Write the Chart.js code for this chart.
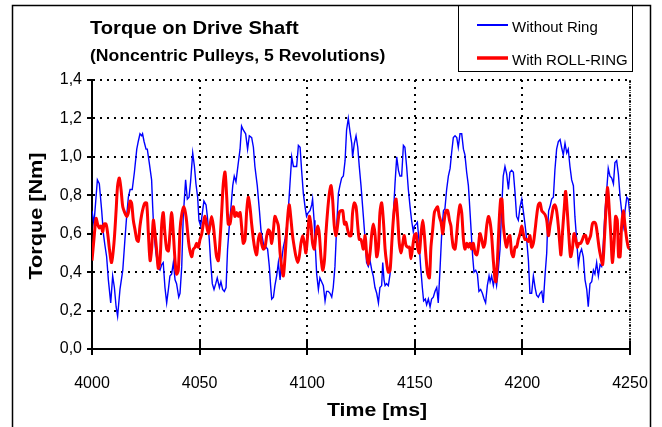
<!DOCTYPE html>
<html>
<head>
<meta charset="utf-8">
<script src="https://cdn.jsdelivr.net/npm/chart.js"></script>
<style>
  html, body { margin: 0; background: #fff; }
  #chart { display: block; }
</style>
</head>
<body>
<canvas id="chart" width="662" height="427"></canvas>
<script>
// --- data (time in ms, torque in Nm) ---
const blueTime = [
  4000.0, 4000.9, 4002.5, 4003.4, 4004.5, 4005.3, 4006.0, 4006.8, 4007.6, 4008.7, 4009.6, 4010.4, 4011.2, 4011.9, 4013.0, 4014.3,
  4015.3, 4016.1, 4016.9, 4017.7, 4018.7, 4019.7, 4020.8, 4021.5, 4022.3, 4023.1, 4023.5, 4024.2, 4025.1, 4025.7, 4026.6, 4027.7,
  4028.2, 4028.8, 4029.7, 4030.8, 4031.6, 4032.4, 4033.1, 4033.9, 4034.7, 4035.5, 4036.2, 4037.0, 4037.8, 4038.6, 4039.3, 4040.3,
  4040.9, 4041.7, 4042.4, 4043.5, 4044.3, 4045.1, 4045.8, 4046.8, 4047.6, 4048.3, 4049.1, 4049.7, 4050.5, 4051.3, 4052.0, 4053.0,
  4053.6, 4054.5, 4055.1, 4055.9, 4056.7, 4057.5, 4058.2, 4059.2, 4059.9, 4060.7, 4061.5, 4062.3, 4063.0, 4063.8, 4064.6, 4065.4,
  4066.1, 4066.9, 4068.0, 4068.8, 4069.5, 4070.3, 4071.4, 4072.3, 4073.1, 4074.2, 4075.0, 4075.7, 4076.8, 4077.8, 4078.5, 4079.3,
  4080.1, 4080.9, 4081.6, 4082.4, 4083.0,
  4083.5, 4084.3, 4085.0, 4085.8, 4086.6, 4087.4, 4088.1, 4088.9, 4089.7, 4090.5, 4091.2, 4092.0, 4092.8, 4093.6, 4094.3, 4095.1,
  4095.9, 4096.7, 4097.4, 4098.2, 4099.0, 4099.7, 4100.5, 4101.3, 4102.1, 4102.5, 4103.2, 4103.6, 4104.4, 4105.2, 4105.9, 4106.7,
  4107.5, 4108.3, 4109.0, 4109.8, 4110.6, 4111.4, 4112.1, 4112.9, 4113.7, 4114.5, 4115.2, 4116.0, 4116.8, 4117.6, 4118.3, 4119.1,
  4119.9, 4120.7, 4121.1, 4121.9, 4122.7, 4123.5, 4124.2, 4125.0,
  4126.1, 4126.9, 4127.6, 4128.4, 4129.2, 4130.0, 4130.7, 4131.5, 4132.3, 4133.1, 4133.8, 4134.6, 4135.1, 4135.7, 4136.2, 4136.9,
  4137.7, 4138.5, 4139.3, 4140.0, 4140.8, 4141.6, 4142.4, 4143.1, 4143.9, 4144.7, 4145.4, 4146.2, 4147.0, 4147.8, 4148.5, 4149.3,
  4149.8, 4150.6, 4151.2, 4151.9, 4152.7, 4153.5, 4154.1, 4154.9, 4155.5, 4156.3, 4157.1, 4157.8, 4158.6, 4159.4, 4160.2, 4160.9,
  4161.7, 4162.5, 4163.3, 4164.0, 4164.8, 4165.6, 4166.4,
  4167.1, 4167.9, 4168.7, 4169.5, 4170.2, 4171.0, 4171.8, 4172.6, 4173.3, 4174.1, 4174.9, 4175.3, 4176.0, 4176.4, 4176.9, 4177.5,
  4178.3, 4179.1, 4179.8, 4180.6, 4181.4, 4182.2, 4182.9, 4183.7, 4184.5, 4185.0, 4185.7, 4186.5, 4187.3, 4188.0, 4188.8, 4189.6,
  4190.4, 4191.1, 4191.9, 4192.7, 4193.5, 4194.2, 4195.0, 4195.8, 4196.6, 4197.3, 4198.1, 4198.9, 4199.7, 4200.4, 4201.2, 4202.0,
  4202.8, 4203.5, 4204.3, 4205.1, 4205.9, 4206.6, 4207.4, 4208.2,
  4209.0, 4209.7, 4210.5, 4211.3, 4211.6, 4212.2, 4212.8, 4213.6, 4214.4, 4215.1, 4215.9, 4216.7, 4217.5, 4218.2, 4219.0, 4219.8,
  4220.6, 4221.3, 4222.1, 4222.9, 4223.7, 4224.4, 4225.2, 4226.0, 4226.8, 4227.5, 4228.3, 4229.1, 4229.9, 4230.6, 4231.4, 4232.2,
  4233.0, 4233.7, 4234.5, 4235.3, 4236.1, 4236.8, 4237.6, 4238.4, 4239.2, 4239.9, 4240.7, 4241.5, 4242.3, 4243.0, 4243.8, 4244.6,
  4245.4, 4246.1, 4246.9, 4247.7, 4248.5, 4249.2, 4250.0
];
const blueTorque = [
  0.72, 0.65, 0.88, 0.86, 0.72, 0.60, 0.54, 0.48, 0.36, 0.24, 0.38, 0.32, 0.22, 0.17, 0.31, 0.41,
  0.57, 0.69, 0.79, 0.83, 0.83, 0.92, 1.04, 1.08, 1.12, 1.11, 1.12, 1.08, 1.04, 1.04, 0.97, 0.88,
  0.74, 0.60, 0.50, 0.42, 0.41, 0.44, 0.45, 0.32, 0.24, 0.31, 0.38, 0.39, 0.45, 0.36, 0.34, 0.27,
  0.29, 0.43, 0.69, 0.88, 0.78, 0.79, 0.87, 1.02, 0.95, 0.86, 0.79, 0.67, 0.64, 0.71, 0.77, 0.75,
  0.69, 0.57, 0.46, 0.34, 0.31, 0.34, 0.37, 0.32, 0.35, 0.31, 0.30, 0.32, 0.52, 0.64, 0.74, 0.85,
  0.90, 0.87, 0.97, 1.04, 1.16, 1.14, 1.12, 1.04, 1.11, 1.10, 1.05, 0.95, 0.85, 0.72, 0.62, 0.57,
  0.52, 0.53, 0.52, 0.43, 0.33,
  0.26, 0.27, 0.33, 0.38, 0.45, 0.36, 0.46, 0.53, 0.57, 0.64, 0.72, 0.86, 1.00, 0.95, 0.95, 0.95,
  1.06, 1.05, 0.93, 0.81, 0.74, 0.69, 0.71, 0.72, 0.75, 0.78, 0.67, 0.57, 0.39, 0.31, 0.37, 0.35,
  0.33, 0.25, 0.30, 0.30, 0.29, 0.27, 0.32, 0.43, 0.64, 0.81, 0.85, 0.89, 0.90, 0.98, 1.14, 1.20,
  1.13, 1.07, 1.00, 1.07, 1.11, 1.05, 0.95, 0.85,
  0.69, 0.57, 0.45, 0.43, 0.46, 0.41, 0.38, 0.32, 0.29, 0.24, 0.32, 0.33, 0.45, 0.36, 0.33, 0.34,
  0.33, 0.39, 0.53, 0.69, 0.86, 1.00, 0.93, 0.90, 0.90, 1.06, 1.05, 0.95, 0.83, 0.74, 0.67, 0.61,
  0.64, 0.65, 0.66, 0.57, 0.43, 0.32, 0.25, 0.26, 0.23, 0.26, 0.22, 0.26, 0.27, 0.30, 0.32, 0.24,
  0.41, 0.60, 0.72, 0.73, 0.83, 0.90, 0.94,
  1.02, 1.10, 1.11, 1.10, 1.05, 1.12, 1.12, 1.04, 1.01, 0.92, 0.85, 0.78, 0.65, 0.57, 0.48, 0.40,
  0.41, 0.39, 0.30, 0.31, 0.29, 0.26, 0.24, 0.33, 0.38, 0.35, 0.38, 0.33, 0.38, 0.33, 0.41, 0.52,
  0.74, 0.90, 0.95, 0.91, 0.83, 0.92, 0.93, 0.92, 0.81, 0.69, 0.67, 0.74, 0.78, 0.72, 0.65, 0.57,
  0.46, 0.29, 0.29, 0.38, 0.32, 0.28, 0.27, 0.29,
  0.30, 0.24, 0.38, 0.50, 0.60, 0.72, 0.74, 0.78, 0.79, 0.93, 1.04, 1.08, 1.09, 1.05, 1.01, 1.07,
  1.02, 1.04, 0.95, 0.88, 0.85, 0.69, 0.57, 0.44, 0.50, 0.52, 0.48, 0.36, 0.31, 0.22, 0.34, 0.35,
  0.41, 0.39, 0.45, 0.38, 0.44, 0.43, 0.55, 0.72, 0.83, 0.94, 0.90, 0.89, 0.86, 0.97, 0.98, 0.91,
  0.79, 0.72, 0.64, 0.72, 0.79, 0.78, 0.69
];

const redTime = [
  4000.0, 4000.9, 4001.9, 4002.6, 4003.4, 4004.2, 4005.0, 4005.6, 4006.5, 4007.3, 4008.1, 4009.1, 4010.2, 4011.2, 4011.9, 4012.7,
  4013.5, 4014.3, 4015.2, 4016.1, 4016.9, 4017.7, 4018.4, 4019.2, 4020.0, 4020.8, 4021.5, 4022.3, 4023.1, 4023.9, 4024.6, 4025.4,
  4026.2, 4027.0, 4027.7, 4028.5, 4029.3, 4030.0, 4030.8, 4031.6, 4032.4, 4033.1, 4033.9, 4034.7, 4035.5, 4036.2, 4037.0, 4037.8,
  4038.6, 4039.3, 4040.1, 4040.9,
  4041.7, 4042.7, 4043.7, 4044.5, 4045.2, 4046.3, 4047.1, 4047.9, 4048.6, 4049.4, 4050.2, 4051.0, 4051.7, 4052.5, 4053.3, 4054.1,
  4054.8, 4055.6, 4056.4, 4057.2, 4057.9, 4058.7, 4059.5, 4060.3, 4061.0, 4061.8, 4062.6, 4063.3, 4064.1, 4064.9, 4065.7, 4066.4,
  4067.2, 4068.0, 4068.8, 4069.5, 4070.3, 4071.1, 4071.9, 4072.6, 4073.4, 4074.2, 4075.0, 4075.7, 4076.5, 4077.3, 4078.1, 4078.8,
  4079.6, 4080.4, 4081.2, 4081.9, 4082.7,
  4083.5, 4084.3, 4085.0, 4085.8, 4086.6, 4087.4, 4088.1, 4088.9, 4089.7, 4090.5, 4091.2, 4091.7, 4092.5, 4093.2, 4094.0, 4094.8,
  4095.6, 4096.3, 4097.1, 4097.9, 4098.7, 4099.4, 4100.2, 4101.0, 4101.8, 4102.5, 4103.3, 4104.1, 4104.9, 4105.6, 4106.4, 4107.2,
  4108.0, 4108.7, 4109.5, 4110.3, 4111.1, 4111.8, 4112.6, 4113.4, 4114.2, 4114.9, 4115.7, 4116.5, 4117.3, 4118.0, 4118.8, 4119.6,
  4120.4, 4121.1, 4121.9, 4122.7, 4123.5, 4124.2, 4125.0,
  4126.1, 4126.9, 4127.6, 4128.4, 4129.2, 4130.0, 4130.7, 4131.5, 4132.3, 4133.1, 4133.8, 4134.6, 4135.4, 4136.2, 4136.9, 4137.7,
  4138.5, 4139.3, 4140.0, 4140.8, 4141.3, 4142.0, 4142.8, 4143.6, 4144.4, 4145.1, 4145.9, 4146.7, 4147.5, 4148.2, 4149.0, 4149.8,
  4150.6, 4151.3, 4152.1, 4152.9, 4153.7, 4154.4, 4155.2, 4156.0, 4156.8, 4157.5, 4158.3, 4159.1, 4159.9, 4160.6, 4161.4, 4162.2,
  4163.0, 4163.7, 4164.5, 4165.3, 4166.1, 4166.8,
  4167.1, 4167.9, 4168.7, 4169.5, 4170.2, 4171.0, 4171.8, 4172.6, 4173.3, 4174.1, 4174.9, 4175.7, 4176.4, 4177.2, 4178.0, 4178.8,
  4179.5, 4180.3, 4181.1, 4181.9, 4182.6, 4183.4, 4184.2, 4185.0, 4185.7, 4186.5, 4187.3, 4187.7, 4188.4, 4189.1, 4189.9, 4190.5,
  4191.1, 4191.9, 4192.7, 4193.5, 4194.2, 4195.0, 4195.8, 4196.6, 4197.3, 4198.1, 4198.9, 4199.7, 4200.4, 4201.2, 4202.0, 4202.8,
  4203.5, 4204.3, 4205.1, 4205.9, 4206.6, 4207.4, 4208.2,
  4209.0, 4209.7, 4210.5, 4211.3, 4212.1, 4212.8, 4213.6, 4214.4, 4215.1, 4215.9, 4216.7, 4217.5, 4217.9, 4218.7, 4219.5, 4220.1,
  4220.9, 4221.7, 4222.4, 4223.2, 4224.0, 4224.8, 4225.5, 4226.3, 4227.1, 4227.9, 4228.6, 4229.4, 4230.2, 4231.0, 4231.7, 4232.5,
  4233.3, 4234.1, 4234.8, 4235.6, 4236.4, 4237.3, 4238.1, 4238.9, 4239.6, 4240.4, 4241.2, 4241.8, 4242.6, 4243.3, 4244.1, 4244.7,
  4245.4, 4246.1, 4246.9, 4247.7, 4248.5, 4249.2, 4250.0
];
const redTorque = [
  0.46, 0.57, 0.68, 0.65, 0.63, 0.64, 0.61, 0.65, 0.65, 0.60, 0.52, 0.45, 0.55, 0.72, 0.85, 0.89,
  0.83, 0.74, 0.71, 0.69, 0.71, 0.77, 0.76, 0.67, 0.62, 0.57, 0.56, 0.64, 0.70, 0.74, 0.76, 0.76,
  0.60, 0.46, 0.52, 0.67, 0.60, 0.52, 0.42, 0.46, 0.65, 0.71, 0.60, 0.52, 0.51, 0.60, 0.71, 0.60,
  0.46, 0.39, 0.41, 0.62,
  0.70, 0.74, 0.69, 0.60, 0.53, 0.48, 0.52, 0.53, 0.55, 0.53, 0.57, 0.60, 0.65, 0.69, 0.64, 0.60,
  0.64, 0.69, 0.64, 0.55, 0.48, 0.46, 0.57, 0.72, 0.86, 0.92, 0.79, 0.65, 0.65, 0.71, 0.74, 0.69,
  0.71, 0.69, 0.71, 0.64, 0.55, 0.57, 0.72, 0.79, 0.74, 0.65, 0.57, 0.52, 0.49, 0.57, 0.60, 0.55,
  0.52, 0.53, 0.59, 0.62, 0.61,
  0.55, 0.62, 0.69, 0.67, 0.64, 0.50, 0.43, 0.38, 0.48, 0.62, 0.72, 0.75, 0.67, 0.59, 0.53, 0.48,
  0.45, 0.48, 0.55, 0.59, 0.55, 0.50, 0.59, 0.69, 0.64, 0.55, 0.52, 0.60, 0.64, 0.60, 0.48, 0.41,
  0.46, 0.60, 0.72, 0.81, 0.85, 0.78, 0.64, 0.59, 0.65, 0.71, 0.72, 0.72, 0.65, 0.66, 0.62, 0.59,
  0.59, 0.71, 0.76, 0.74, 0.64, 0.57, 0.57,
  0.52, 0.59, 0.50, 0.44, 0.50, 0.60, 0.65, 0.60, 0.48, 0.53, 0.71, 0.76, 0.67, 0.52, 0.45, 0.40,
  0.41, 0.55, 0.67, 0.76, 0.78, 0.69, 0.55, 0.50, 0.55, 0.59, 0.54, 0.53, 0.53, 0.47, 0.53, 0.59,
  0.60, 0.53, 0.50, 0.60, 0.67, 0.60, 0.48, 0.39, 0.37, 0.53, 0.62, 0.71, 0.73, 0.74, 0.69, 0.66,
  0.60, 0.67, 0.72, 0.72, 0.67, 0.64,
  0.60, 0.53, 0.52, 0.60, 0.69, 0.75, 0.71, 0.57, 0.52, 0.55, 0.53, 0.55, 0.52, 0.55, 0.50, 0.49,
  0.53, 0.60, 0.57, 0.53, 0.55, 0.64, 0.69, 0.66, 0.59, 0.46, 0.36, 0.35, 0.46, 0.64, 0.78, 0.78,
  0.65, 0.57, 0.53, 0.58, 0.59, 0.50, 0.48, 0.53, 0.53, 0.57, 0.60, 0.64, 0.60, 0.57, 0.57, 0.56,
  0.59, 0.53, 0.55, 0.62, 0.69, 0.75, 0.76,
  0.72, 0.71, 0.70, 0.67, 0.59, 0.64, 0.69, 0.74, 0.75, 0.72, 0.64, 0.53, 0.49, 0.62, 0.74, 0.82,
  0.71, 0.57, 0.48, 0.52, 0.60, 0.57, 0.53, 0.55, 0.55, 0.57, 0.59, 0.59, 0.55, 0.57, 0.59, 0.65,
  0.66, 0.65, 0.60, 0.53, 0.48, 0.44, 0.57, 0.74, 0.84, 0.72, 0.57, 0.45, 0.55, 0.69, 0.67, 0.48,
  0.48, 0.64, 0.72, 0.64, 0.57, 0.53, 0.52
];

const timeTicks = [4000, 4050, 4100, 4150, 4200, 4250];
const torqueTicks = [0, 0.2, 0.4, 0.6, 0.8, 1.0, 1.2, 1.4];

const FONT = '"Liberation Sans", Arial, Helvetica, sans-serif';

function toPoints(times, values) {
  return times.map((t, i) => ({ x: t, y: values[i] }));
}

// text in the original is a bit wider than Arial, so stretch it horizontally
function wideText(ctx, text, x, y, font, sx, align, rot) {
  ctx.save();
  ctx.translate(x, y);
  if (rot) ctx.rotate(rot);
  ctx.scale(sx, 1);
  ctx.font = font;
  ctx.textAlign = align || 'left';
  ctx.textBaseline = 'alphabetic';
  ctx.fillStyle = '#000';
  ctx.fillText(text, 0, 0);
  ctx.restore();
}

const decor = {
  id: 'decor',
  afterDraw(chart) {
    const ctx = chart.ctx;
    const xs = chart.scales.x;
    const area = chart.chartArea;
    ctx.save();

    // outer frame
    ctx.strokeStyle = '#000';
    ctx.lineWidth = 1.5;
    ctx.strokeRect(12.5, 5.5, 638, 440);

    // legend box
    ctx.lineWidth = 1;
    ctx.strokeRect(458.5, 5.5, 174, 66);
    const sets = chart.data.datasets;
    const blue = sets.find(d => d.label === 'Without Ring');
    const red = sets.find(d => d.label === 'With ROLL-RING');
    ctx.lineCap = 'butt';
    ctx.strokeStyle = blue.borderColor;
    ctx.lineWidth = 2;
    ctx.beginPath(); ctx.moveTo(477, 25); ctx.lineTo(508, 25); ctx.stroke();
    ctx.strokeStyle = red.borderColor;
    ctx.lineWidth = 3.5;
    ctx.beginPath(); ctx.moveTo(477, 58); ctx.lineTo(508, 58); ctx.stroke();
    wideText(ctx, blue.label, 512, 32, '14px ' + FONT, 1.07);
    wideText(ctx, red.label, 512, 65, '14px ' + FONT, 1.07);

    // titles
    wideText(ctx, 'Torque on Drive Shaft', 90, 34, 'bold 17.5px ' + FONT, 1.15);
    wideText(ctx, '(Noncentric Pulleys, 5 Revolutions)', 90, 61, 'bold 16px ' + FONT, 1.1);

    // axis titles
    wideText(ctx, 'Torque [Nm]', 42, 216, 'bold 19px ' + FONT, 1.14, 'center', -Math.PI / 2);
    wideText(ctx, 'Time [ms]', 377, 416, 'bold 19px ' + FONT, 1.12, 'center');

    // right edge of the plot is a fine grey dotted line
    ctx.strokeStyle = '#444';
    ctx.lineWidth = 2;
    ctx.setLineDash([1, 1]);
    ctx.beginPath(); ctx.moveTo(area.right, area.top); ctx.lineTo(area.right, area.bottom); ctx.stroke();
    ctx.setLineDash([]);

    // x tick marks also reach into the plot
    ctx.strokeStyle = '#000';
    ctx.lineWidth = 2;
    xs.ticks.forEach(t => {
      const px = Math.round(xs.getPixelForValue(t.value));
      ctx.beginPath(); ctx.moveTo(px, area.bottom - 8); ctx.lineTo(px, area.bottom); ctx.stroke();
    });
    ctx.restore();
  }
};

new Chart(document.getElementById('chart'), {
  type: 'line',
  data: {
    datasets: [
      {
        label: 'With ROLL-RING',
        data: toPoints(redTime, redTorque),
        borderColor: '#ff0000',
        borderWidth: 3,
        pointRadius: 0,
        tension: 0.3,
        borderJoinStyle: 'round',
        order: 0
      },
      {
        label: 'Without Ring',
        data: toPoints(blueTime, blueTorque),
        borderColor: '#0000ff',
        borderWidth: 1.4,
        pointRadius: 0,
        tension: 0,
        order: 1
      }
    ]
  },
  options: {
    responsive: false,
    animation: false,
    layout: { padding: { left: 0, top: 80, right: 32, bottom: 0 } },
    plugins: { legend: { display: false }, tooltip: { enabled: false } },
    scales: {
      x: {
        type: 'linear',
        min: 4000,
        max: 4250,
        afterBuildTicks: s => { s.ticks = timeTicks.map(v => ({ value: v })); },
        // fixed axis box so the plot area lands where the original's does
        afterFit: s => { s.height = 78; s.paddingLeft = 0; s.paddingRight = 0; },
        grid: { color: '#000', lineWidth: 2, tickLength: 6, tickColor: '#000', tickWidth: 2, tickBorderDash: [] },
        border: { display: true, color: '#000', width: 2, dash: [2, 5] },
        ticks: {
          color: '#000', padding: 19, maxRotation: 0, autoSkip: false,
          font: { family: FONT, size: 16 },
          callback: v => String(v)
        }
      },
      y: {
        min: 0,
        max: 1.4,
        afterBuildTicks: s => { s.ticks = torqueTicks.map(v => ({ value: v })); },
        afterFit: s => { s.width = 92; s.paddingTop = 0; s.paddingBottom = 0; },
        grid: { color: '#000', lineWidth: 2, tickLength: 5, tickColor: '#000', tickWidth: 2, tickBorderDash: [] },
        border: { display: true, color: '#000', width: 2, dash: [2, 5] },
        ticks: {
          color: '#000', padding: 5,
          font: { family: FONT, size: 16 },
          callback: v => v.toFixed(1).replace('.', ',')
        }
      }
    }
  },
  plugins: [decor]
});
</script>
</body>
</html>
